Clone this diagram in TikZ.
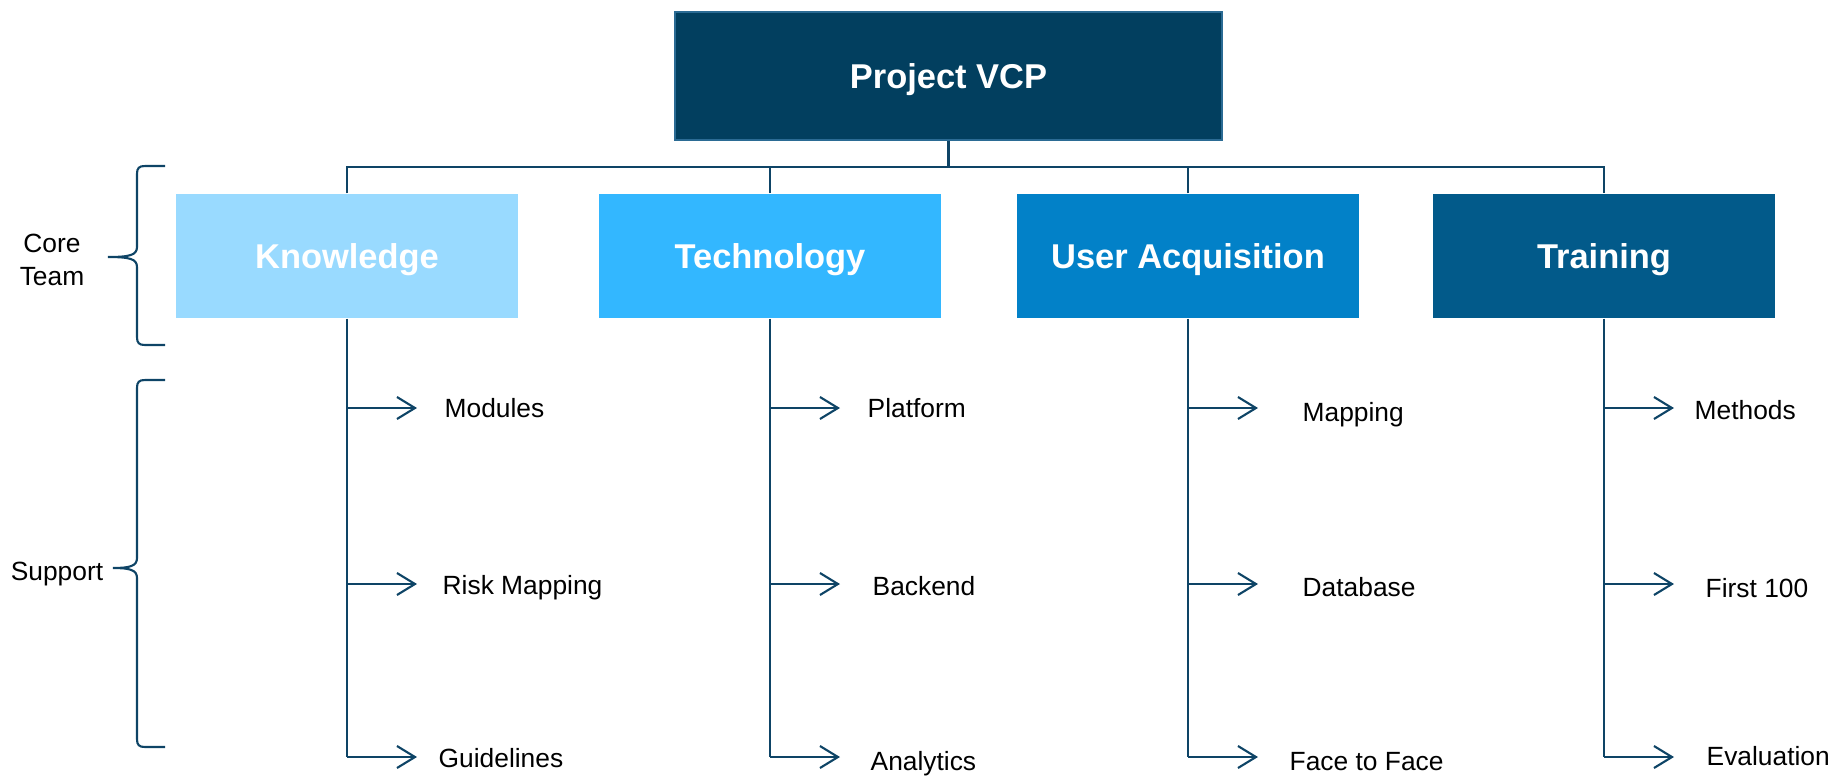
\documentclass[tikz,border=0pt]{standalone}
\usepackage{fontspec}
\setmainfont{Liberation Sans}
\usetikzlibrary{arrows.meta,positioning}

\definecolor{vcpdark}{HTML}{023F5F}
\definecolor{vcpedge}{HTML}{2B6B94}
\definecolor{knowcol}{HTML}{99DAFF}
\definecolor{techcol}{HTML}{33B7FF}
\definecolor{usercol}{HTML}{0281C8}
\definecolor{traincol}{HTML}{025A8A}
\definecolor{linkcol}{HTML}{0E4466}

\tikzset{
	link/.style={draw=linkcol, line width=0.6pt},
	topbox/.style={fill=vcpdark, draw=vcpedge, line width=0.5pt, text=white, text depth=0pt, minimum width=5.47cm, minimum height=1.28cm, font=\fontsize{9.8}{12}\selectfont\bfseries},
	teambox/.style={text=white, text depth=0pt, minimum width=3.42cm, minimum height=1.24cm, font=\fontsize{9.8}{12}\selectfont\bfseries},
	item/.style={inner sep=0pt, font=\fontsize{7.5}{9}\selectfont},
	side/.style={align=center, inner sep=0pt, font=\fontsize{7.5}{9.2}\selectfont},
}

\begin{document}
\begin{tikzpicture}
		\useasboundingbox (0,0) rectangle (18.32,-7.76);

		\node[topbox] (vcp) at (9.485,-0.76) {Project VCP};
		\node[teambox, fill=knowcol] (know) at (3.47,-2.56) {Knowledge};
		\node[teambox, fill=techcol] (tech) at (7.70,-2.56) {Technology};
		\node[teambox, fill=usercol] (user) at (11.88,-2.56) {User Acquisition};
		\node[teambox, fill=traincol] (train) at (16.04,-2.56) {Training};

		% bus from the top box to the four teams
		\coordinate (bus) at (9.485,-1.67);
		\draw[link] (vcp.south) -- (bus);
		\draw[link] (know.north) |- (bus) -| (train.north);
		\draw[link] (tech.north) -- (tech.north |- bus);
		\draw[link] (user.north) -- (user.north |- bus);

		\coordinate (row1) at (0,-4.08);
		\coordinate (row2) at (0,-5.84);
		\coordinate (row3) at (0,-7.57);
		\foreach \b in {know,tech,user,train}{
			\draw[link] (\b.south) -- (\b.south |- row3);
		}
		\foreach \b/\r/\dx/\dy/\t in {know/1/0.27/0/Modules, know/2/0.25/-0.035/Risk Mapping, know/3/0.21/-0.01/Guidelines,
			tech/1/0.27/0/Platform, tech/2/0.32/-0.025/Backend, tech/3/0.30/-0.07/Analytics,
			user/1/0.44/-0.07/Mapping, user/2/0.44/-0.035/Database, user/3/0.31/-0.045/Face to Face,
			train/1/0.20/-0.025/Methods, train/2/0.31/-0.045/First 100, train/3/0.32/0.01/Evaluation}{
			\coordinate (\b-\r) at (\b.south |- row\r);
			\draw[link, -{Straight Barb[length=1.8mm, width=2.2mm]}] (\b-\r) -- ++(0.70,0) coordinate (\b-\r-tip);
			\node[item, right=\dx cm of \b-\r-tip, yshift=\dy cm] (\b-\r-txt) {\t};
		}

		% braces on the left
		\node[side] (core) at (0.52,-2.60) {Core\\Team};
		\node[side] (support) at (0.57,-5.74) {Support};
		\foreach \ya/\ym/\yb/\xt in {-1.66/-2.57/-3.45/1.08, -3.80/-5.68/-7.47/1.13}{
			\draw[link] (1.65,\ya) -- (1.45,\ya) .. controls (1.39,\ya) and (1.37,{\ya-0.02}) .. (1.37,{\ya-0.08})
				-- (1.37,{\ym+0.10}) .. controls (1.37,{\ym+0.02}) and (1.30,\ym) .. (\xt,\ym)
				.. controls (1.30,\ym) and (1.37,{\ym-0.02}) .. (1.37,{\ym-0.10})
				-- (1.37,{\yb+0.08}) .. controls (1.37,{\yb+0.02}) and (1.39,\yb) .. (1.45,\yb) -- (1.65,\yb);
		}
\end{tikzpicture}
\end{document}
